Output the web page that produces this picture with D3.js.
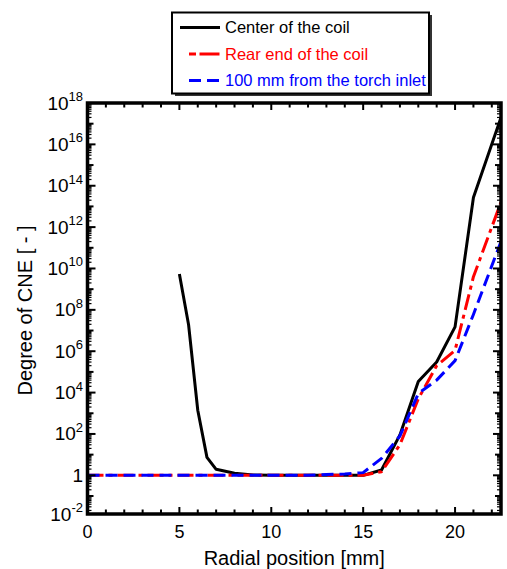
<!DOCTYPE html>
<html><head><meta charset="utf-8">
<script src="https://cdn.jsdelivr.net/npm/d3@7"></script>
<style>body{margin:0;background:#fff}svg{display:block}text{font-family:"Liberation Sans",Arial,Helvetica,sans-serif}</style>
</head><body><svg id="c" width="507" height="569"></svg>
<script>
// ---- data ----
const seriesNames = ["Center of the coil", "Rear end of the coil", "100 mm from the torch inlet"];
const seriesColors = ["#000000", "#ff0000", "#0000ff"];
const centerX = [5, 5.5, 6, 6.5, 7, 8, 9, 10, 11, 12, 13, 14, 15, 16, 17, 18, 19, 20, 21, 22.5];
const centerY = [5.4e9, 1.9e7, 1.4e3, 7.4, 1.95, 1.25, 1.05, 1, 1, 1, 1, 1, 1, 1.8, 90, 3.4e4, 3e5, 1.5e7, 2.7e13, 2e17];
const rearX = [0, 5, 10, 15, 16, 17, 18, 19, 20, 21, 22.5];
const rearY = [1, 1, 1, 1, 1.5, 30, 5e3, 2e5, 1.1e6, 4e9, 1.6e13];
const inletX = [0, 5, 10, 12, 13, 14, 15, 16, 17, 18, 19, 20, 21, 22.5];
const inletY = [1, 1, 1, 1, 1.1, 1.15, 1.35, 6.6, 80, 9e3, 4e4, 3.5e5, 6e7, 2e11];
const xTickMajor = [0, 5, 10, 15, 20];
const xTickMinor = d3.range(0, 23, 1);
const yLabelExp = [-2, 0, 2, 4, 6, 8, 10, 12, 14, 16, 18];
const xTitle = "Radial position [mm]";
const yTitle = "Degree of CNE [ - ]";

// ---- layout ----
const L = 87.5, R = 501, T = 103, B = 514;
const x = d3.scaleLinear().domain([0, 22.5]).range([L, R]);
const y = d3.scaleLog().domain([Math.pow(10, -1.87), 1e18]).range([B, T]);
const svg = d3.select("#c");

const series = [
  {name: seriesNames[0], color: seriesColors[0], xs: centerX, ys: centerY, dash: null, w: 3},
  {name: seriesNames[1], color: seriesColors[1], xs: rearX, ys: rearY, dash: "16,5,4,5", w: 3},
  {name: seriesNames[2], color: seriesColors[2], xs: inletX, ys: inletY, dash: "12,6", w: 3}
];

svg.append("clipPath").attr("id", "clip").append("rect")
  .attr("x", L).attr("y", T).attr("width", R - L).attr("height", B - T);

const line = d3.line().x(d => x(d[0])).y(d => y(d[1]));
const g = svg.append("g").attr("clip-path", "url(#clip)");
series.forEach(s => {
  g.append("path").datum(s.xs.map((v, i) => [v, s.ys[i]]))
    .attr("d", line).attr("fill", "none").attr("stroke", s.color)
    .attr("stroke-width", s.w).attr("stroke-linejoin", "round")
    .attr("stroke-dasharray", s.dash);
});

// ---- ticks ----
const tk = svg.append("g").attr("stroke", "#000");
xTickMinor.forEach(v => {
  const len = xTickMajor.includes(v) ? 7 : 4.5;
  tk.append("line").attr("x1", x(v)).attr("x2", x(v)).attr("y1", B).attr("y2", B - len).attr("stroke-width", 2);
  tk.append("line").attr("x1", x(v)).attr("x2", x(v)).attr("y1", T).attr("y2", T + len).attr("stroke-width", 2);
});
for (let e = -2; e <= 18; e++) {
  for (let m = 1; m <= 9; m++) {
    const v = m * Math.pow(10, e);
    if (v < y.domain()[0] || v > 1e18) continue;
    let len = 4, sw = 1.2;
    if (m === 1) { len = (e % 2 === 0) ? 8 : 6; sw = 2; }
    tk.append("line").attr("x1", L).attr("x2", L + len).attr("y1", y(v)).attr("y2", y(v)).attr("stroke-width", sw);
    tk.append("line").attr("x1", R).attr("x2", R - len).attr("y1", y(v)).attr("y2", y(v)).attr("stroke-width", sw);
  }
}

// frame
svg.append("rect").attr("x", L).attr("y", T).attr("width", R - L).attr("height", B - T)
  .attr("fill", "none").attr("stroke", "#000").attr("stroke-width", 3.5);

// ---- tick labels ----
xTickMajor.forEach(v => {
  svg.append("text").attr("x", x(v)).attr("y", 538).attr("text-anchor", "middle")
    .attr("font-size", 18).text(v);
});
yLabelExp.forEach(e => {
  const yy = y(Math.max(Math.pow(10, e), y.domain()[0]));
  const t = svg.append("text").attr("x", 83).attr("y", yy + 6.5).attr("text-anchor", "end").attr("font-size", 19);
  if (e === 0) { t.text("1"); }
  else {
    t.append("tspan").text("10");
    t.append("tspan").attr("dy", -8.5).attr("font-size", 13).text(e);
  }
});

// ---- titles ----
svg.append("text").attr("x", (L + R) / 2).attr("y", 565).attr("text-anchor", "middle")
  .attr("font-size", 20).text(xTitle);
svg.append("text").attr("transform", `translate(32,${(T + B) / 2 + 2}) rotate(-90)`)
  .attr("text-anchor", "middle").attr("font-size", 20).text(yTitle);

// ---- legend ----
const lg = svg.append("g");
lg.append("rect").attr("x", 175).attr("y", 15).attr("width", 257).attr("height", 81).attr("fill", "#333");
lg.append("rect").attr("x", 172).attr("y", 12.5).attr("width", 257).attr("height", 81)
  .attr("fill", "#fff").attr("stroke", "#000").attr("stroke-width", 2);
const rowY = [27.5, 54, 80.5];
const legDash = [null, "7,3.5,20", "12,6"];
const legX0 = [180, 189, 189];
series.forEach((s, i) => {
  lg.append("line").attr("x1", legX0[i]).attr("x2", 220).attr("y1", rowY[i]).attr("y2", rowY[i])
    .attr("stroke", s.color).attr("stroke-width", 3).attr("stroke-dasharray", legDash[i]);
  lg.append("text").attr("x", 225).attr("y", rowY[i] + 5.5).attr("font-size", 16.5)
    .attr("fill", s.color).text(s.name);
});
</script></body></html>
